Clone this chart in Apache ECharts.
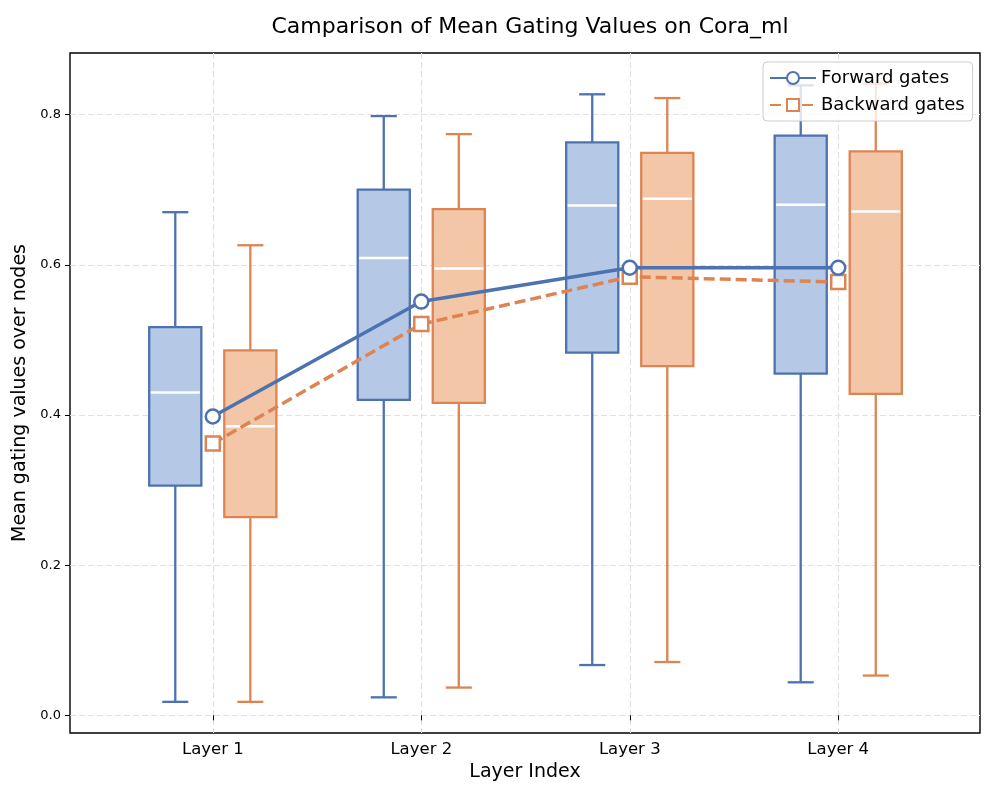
<!DOCTYPE html>
<html>
<head>
<meta charset="utf-8">
<script src="https://cdn.jsdelivr.net/npm/echarts@6/dist/echarts.min.js"></script>
<style>html,body{margin:0;padding:0;background:#fff}#c{width:996px;height:797px}</style>
</head>
<body>
<div id="c"></div>
<script>
const layers = ['Layer 1', 'Layer 2', 'Layer 3', 'Layer 4'];
const yTicks = [0.0, 0.2, 0.4, 0.6, 0.8];

// Forward gates box statistics
const fwdMin = [0.018, 0.024, 0.067, 0.044];
const fwdQ1  = [0.306, 0.420, 0.483, 0.455];
const fwdMed = [0.430, 0.609, 0.679, 0.680];
const fwdQ3  = [0.517, 0.700, 0.763, 0.772];
const fwdMax = [0.670, 0.798, 0.827, 0.839];
const fwdMean = [0.398, 0.551, 0.596, 0.596];

// Backward gates box statistics
const bwdMin = [0.018, 0.037, 0.071, 0.053];
const bwdQ1  = [0.264, 0.416, 0.465, 0.428];
const bwdMed = [0.385, 0.595, 0.688, 0.671];
const bwdQ3  = [0.486, 0.674, 0.749, 0.751];
const bwdMax = [0.626, 0.774, 0.822, 0.841];
const bwdMean = [0.362, 0.521, 0.584, 0.577];

const BLUE = '#4c72b0', ORANGE = '#dd8452';
const BLUE_FILL = '#b5c9e7', ORANGE_FILL = '#f3c6a7';
const OFFSET = 0.18, BOXW = 0.25;
const FONT = 'DejaVu Sans';

function boxData(off, mn, q1, md, q3, mx) {
  return layers.map((_, i) => [i + 1 + off, mn[i], q1[i], md[i], q3[i], mx[i]]);
}

function makeRender(edge, fill) {
  return function (params, api) {
    const x = api.value(0);
    const w = api.size([BOXW, 0])[0];
    const pMin = api.coord([x, api.value(1)]);
    const pQ1 = api.coord([x, api.value(2)]);
    const pMed = api.coord([x, api.value(3)]);
    const pQ3 = api.coord([x, api.value(4)]);
    const pMax = api.coord([x, api.value(5)]);
    const cx = pQ1[0];
    const cap = w / 4;
    const ls = { stroke: edge, lineWidth: 2.3 };
    return {
      type: 'group',
      children: [
        { type: 'line', shape: { x1: cx, y1: pMin[1], x2: cx, y2: pQ1[1] }, style: ls },
        { type: 'line', shape: { x1: cx, y1: pQ3[1], x2: cx, y2: pMax[1] }, style: ls },
        { type: 'line', shape: { x1: cx - cap, y1: pMin[1], x2: cx + cap, y2: pMin[1] }, style: ls },
        { type: 'line', shape: { x1: cx - cap, y1: pMax[1], x2: cx + cap, y2: pMax[1] }, style: ls },
        { type: 'rect', shape: { x: cx - w / 2, y: pQ3[1], width: w, height: pQ1[1] - pQ3[1] },
          style: { fill: fill, stroke: edge, lineWidth: 2.3 } },
        { type: 'line', shape: { x1: cx - w / 2 + 1.5, y1: pMed[1], x2: cx + w / 2 - 1.5, y2: pMed[1] },
          style: { stroke: '#ffffff', lineWidth: 2.6 } }
      ]
    };
  };
}

const chart = echarts.init(document.getElementById('c'), null, { renderer: 'canvas' });
chart.setOption({
  backgroundColor: '#fff',
  animation: false,
  textStyle: { fontFamily: FONT },
  title: {
    text: 'Camparison of Mean Gating Values on Cora_ml',
    left: 525, top: 11, textAlign: 'center',
    textStyle: { fontFamily: FONT, fontSize: 22, fontWeight: 'normal', color: '#000' }
  },
  grid: { left: 70, right: 16, top: 53, bottom: 64, show: true, borderColor: '#000', borderWidth: 1.4, backgroundColor: 'transparent' },
  legend: {
    data: ['Forward gates', 'Backward gates'],
    orient: 'vertical', left: 763, top: 62,
    padding: [6, 8, 6, 6], itemGap: 7, itemWidth: 46, itemHeight: 15,
    backgroundColor: 'rgba(255,255,255,0.8)', borderColor: '#cccccc', borderWidth: 1, borderRadius: 4,
    textStyle: { fontFamily: FONT, fontSize: 18, color: '#000', lineHeight: 20 }
  },
  xAxis: {
    type: 'value', min: 0.315, max: 4.68,
    name: 'Layer Index', nameLocation: 'middle', nameGap: 30,
    nameTextStyle: { fontFamily: FONT, fontSize: 19, color: '#000' },
    axisLine: { show: false },
    axisTick: { show: true, customValues: [1, 2, 3, 4], length: 5, lineStyle: { color: '#000', width: 1 } },
    axisLabel: { customValues: [1, 2, 3, 4], formatter: v => layers[Math.round(v) - 1], fontFamily: FONT, fontSize: 16.5, color: '#000', margin: 8 },
    splitLine: { show: true, lineStyle: { color: '#e0e0e0', type: [6, 3], width: 1.1 } }
  },
  yAxis: {
    type: 'value', min: -0.0235, max: 0.882,
    name: 'Mean gating values over nodes', nameLocation: 'middle', nameGap: 38,
    nameTextStyle: { fontFamily: FONT, fontSize: 19, color: '#000' },
    axisLine: { show: false },
    axisTick: { show: true, customValues: yTicks, length: 5, lineStyle: { color: '#000', width: 1 } },
    axisLabel: { customValues: yTicks, formatter: v => v.toFixed(1), fontFamily: FONT, fontSize: 13, color: '#000', margin: 9 },
    splitLine: { show: true, lineStyle: { color: '#e0e0e0', type: [6, 3], width: 1.1 } }
  },
  series: [
    {
      name: 'fwdBox', type: 'custom', renderItem: makeRender(BLUE, BLUE_FILL),
      encode: { x: 0, y: [1, 2, 3, 4, 5] }, z: 2,
      data: boxData(-OFFSET, fwdMin, fwdQ1, fwdMed, fwdQ3, fwdMax)
    },
    {
      name: 'bwdBox', type: 'custom', renderItem: makeRender(ORANGE, ORANGE_FILL),
      encode: { x: 0, y: [1, 2, 3, 4, 5] }, z: 2,
      data: boxData(OFFSET, bwdMin, bwdQ1, bwdMed, bwdQ3, bwdMax)
    },
    {
      name: 'Forward gates', type: 'line', z: 5,
      data: layers.map((_, i) => [i + 1, fwdMean[i]]),
      symbol: 'circle', symbolSize: 14, showAllSymbol: true,
      lineStyle: { color: BLUE, width: 3.5 },
      itemStyle: { color: '#fff', borderColor: BLUE, borderWidth: 2.5 }
    },
    {
      name: 'Backward gates', type: 'line', z: 4,
      data: layers.map((_, i) => [i + 1, bwdMean[i]]),
      symbol: 'rect', symbolSize: 14, showAllSymbol: true,
      lineStyle: { color: ORANGE, width: 3.5, type: [11, 5] },
      itemStyle: { color: '#fff', borderColor: ORANGE, borderWidth: 2.5 }
    }
  ]
});
</script>
</body>
</html>
